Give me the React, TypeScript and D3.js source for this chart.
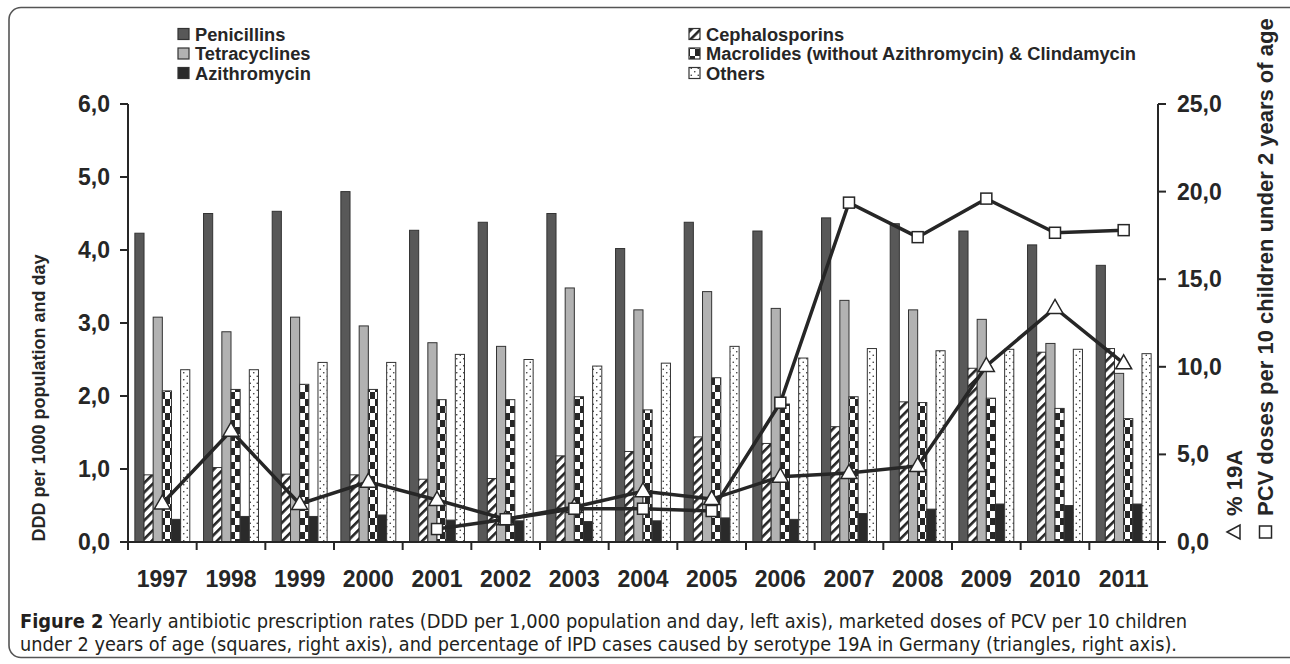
import { useRef, useEffect } from 'react';
import { select, scaleBand, scaleLinear, line, range } from 'd3';

const years = ['1997', '1998', '1999', '2000', '2001', '2002', '2003', '2004', '2005', '2006', '2007', '2008', '2009', '2010', '2011'];

const penicillins = [4.23, 4.5, 4.53, 4.8, 4.27, 4.38, 4.5, 4.02, 4.38, 4.26, 4.44, 4.36, 4.26, 4.07, 3.79];
const cephalosporins = [0.92, 1.02, 0.93, 0.92, 0.86, 0.87, 1.18, 1.24, 1.44, 1.35, 1.58, 1.92, 2.38, 2.6, 2.65];
const tetracyclines = [3.08, 2.88, 3.08, 2.96, 2.73, 2.68, 3.48, 3.18, 3.43, 3.2, 3.31, 3.18, 3.05, 2.72, 2.31];
const macrolides = [2.07, 2.09, 2.16, 2.09, 1.95, 1.95, 1.99, 1.81, 2.25, 1.89, 1.99, 1.91, 1.97, 1.83, 1.69];
const azithromycin = [0.31, 0.35, 0.35, 0.37, 0.3, 0.29, 0.28, 0.29, 0.33, 0.31, 0.39, 0.45, 0.52, 0.5, 0.52];
const others = [2.36, 2.36, 2.46, 2.46, 2.57, 2.5, 2.41, 2.45, 2.68, 2.52, 2.65, 2.62, 2.64, 2.64, 2.58];

// right axis series
const pct19A = [2.2, 6.35, 2.17, 3.44, 2.4, 1.3, 2.0, 2.9, 2.45, 3.73, 3.94, 4.34, 10.05, 13.36, 10.2];
const pcvDoses = [null, null, null, null, 0.74, 1.3, 1.9, 1.9, 1.77, 7.95, 19.37, 17.4, 19.6, 17.65, 17.8];

const leftTicks = [0, 1, 2, 3, 4, 5, 6];
const rightTicks = [0, 5, 10, 15, 20, 25];

const seriesNames = [
  'Penicillins',
  'Cephalosporins',
  'Tetracyclines',
  'Macrolides (without Azithromycin) & Clindamycin',
  'Azithromycin',
  'Others',
];
const seriesValues = [penicillins, cephalosporins, tetracyclines, macrolides, azithromycin, others];
const seriesFills = ['#585858', 'url(#hatch)', '#b2b2b2', 'url(#checker)', '#2a2a2a', 'url(#dots)'];

const captionBold = 'Figure 2';
const captionLine1 = ' Yearly antibiotic prescription rates (DDD per 1,000 population and day, left axis), marketed doses of PCV per 10 children';
const captionLine2 = 'under 2 years of age (squares, right axis), and percentage of IPD cases caused by serotype 19A in Germany (triangles, right axis).';

const W = 1290;
const H = 664;
const FONT = "'Liberation Sans', Arial, Helvetica, sans-serif";
const INK = '#262626';

const App = () => {
  const svgRef = useRef<SVGSVGElement | null>(null);

  useEffect(() => {
    const svg = select(svgRef.current);
    svg.selectAll('*').remove();

    const x = scaleBand<string>().domain(years).range([128, 1158]).paddingInner(0.2).paddingOuter(0.1);
    const xs = scaleBand<number>().domain(range(seriesNames.length)).range([0, x.bandwidth()]);
    const yLeft = scaleLinear().domain([0, 6]).range([542, 104]);
    const yRight = scaleLinear().domain([0, 25]).range([542, 104]);
    const cx = (i: number) => (x(years[i]) as number) + x.bandwidth() / 2;

    // patterns
    const defs = svg.append('defs');
    const hatch = defs
      .append('pattern')
      .attr('id', 'hatch')
      .attr('patternUnits', 'userSpaceOnUse')
      .attr('width', 6.6)
      .attr('height', 6.6)
      .attr('patternTransform', 'rotate(45)');
    hatch.append('rect').attr('width', 6.6).attr('height', 6.6).attr('fill', '#fff');
    hatch.append('rect').attr('width', 2.6).attr('height', 6.6).attr('fill', INK);

    const checker = defs
      .append('pattern')
      .attr('id', 'checker')
      .attr('patternUnits', 'userSpaceOnUse')
      .attr('width', 10)
      .attr('height', 14);
    checker.append('rect').attr('width', 10).attr('height', 14).attr('fill', '#fff');
    checker.append('rect').attr('width', 5).attr('height', 7).attr('fill', INK);
    checker.append('rect').attr('x', 5).attr('y', 7).attr('width', 5).attr('height', 7).attr('fill', INK);

    const dots = defs
      .append('pattern')
      .attr('id', 'dots')
      .attr('patternUnits', 'userSpaceOnUse')
      .attr('width', 7)
      .attr('height', 7);
    dots.append('rect').attr('width', 7).attr('height', 7).attr('fill', '#fff');
    dots.append('circle').attr('cx', 1.75).attr('cy', 1.75).attr('r', 0.8).attr('fill', '#333');
    dots.append('circle').attr('cx', 5.25).attr('cy', 5.25).attr('r', 0.8).attr('fill', '#333');

    // frame
    svg
      .append('rect')
      .attr('x', 9)
      .attr('y', 7.5)
      .attr('width', 1300)
      .attr('height', 650)
      .attr('rx', 12)
      .attr('fill', 'none')
      .attr('stroke', '#555')
      .attr('stroke-width', 1.6);

    // bars
    seriesValues.forEach((vals, s) => {
      svg
        .append('g')
        .selectAll('rect')
        .data(vals)
        .join('rect')
        .attr('x', (d, i) => (x(years[i]) as number) + (xs(s) as number))
        .attr('y', (d) => yLeft(d))
        .attr('width', xs.bandwidth())
        .attr('height', (d) => yLeft(0) - yLeft(d))
        .attr('fill', seriesFills[s])
        .attr('stroke', '#333')
        .attr('stroke-width', 1);
    });

    // axes
    const ax = svg.append('g').attr('stroke', INK).attr('stroke-width', 2).attr('fill', 'none');
    ax.append('line').attr('x1', 128).attr('x2', 1158).attr('y1', 542).attr('y2', 542);
    ax.append('line').attr('x1', 128).attr('x2', 128).attr('y1', 104).attr('y2', 542);
    ax.append('line').attr('x1', 1158).attr('x2', 1158).attr('y1', 104).attr('y2', 542);
    ax.selectAll('.xt')
      .data(range(years.length + 1))
      .join('line')
      .attr('x1', (i) => 128 + i * x.step())
      .attr('x2', (i) => 128 + i * x.step())
      .attr('y1', 542)
      .attr('y2', 550);
    ax.selectAll('.yl')
      .data(leftTicks)
      .join('line')
      .attr('class', 'yl')
      .attr('x1', 120)
      .attr('x2', 128)
      .attr('y1', (d) => yLeft(d))
      .attr('y2', (d) => yLeft(d));
    ax.selectAll('.yr')
      .data(rightTicks)
      .join('line')
      .attr('class', 'yr')
      .attr('x1', 1158)
      .attr('x2', 1166)
      .attr('y1', (d) => yRight(d))
      .attr('y2', (d) => yRight(d));

    const lbl = svg.append('g').attr('font-family', FONT).attr('font-weight', 'bold').attr('fill', INK).attr('font-size', 23);
    lbl.selectAll('.lt')
      .data(leftTicks)
      .join('text')
      .attr('x', 110)
      .attr('y', (d) => yLeft(d))
      .attr('dy', '0.35em')
      .attr('text-anchor', 'end')
      .text((d) => d.toFixed(1).replace('.', ','));
    lbl.selectAll('.rt')
      .data(rightTicks)
      .join('text')
      .attr('x', 1177)
      .attr('y', (d) => yRight(d))
      .attr('dy', '0.35em')
      .text((d) => d.toFixed(1).replace('.', ','));
    lbl.selectAll('.yr')
      .data(years)
      .join('text')
      .attr('x', (d, i) => cx(i))
      .attr('y', 587)
      .attr('text-anchor', 'middle')
      .text((d) => d);

    // axis titles
    const titles = svg.append('g').attr('font-family', FONT).attr('font-weight', 'bold').attr('fill', INK);
    titles
      .append('text')
      .attr('font-size', 18)
      .attr('transform', 'translate(45,398) rotate(-90)')
      .attr('text-anchor', 'middle')
      .text('DDD per 1000 population and day');
    titles
      .append('text')
      .attr('font-size', 22)
      .attr('transform', 'translate(1242,516) rotate(-90)')
      .text('% 19A');
    titles
      .append('text')
      .attr('font-size', 22)
      .attr('transform', 'translate(1273,516) rotate(-90)')
      .text('PCV doses per 10 children under 2 years of age');
    // symbols in front of the right-axis titles
    titles
      .append('path')
      .attr('d', 'M1227,532L1240,525L1240,539Z')
      .attr('fill', '#fff')
      .attr('stroke', INK)
      .attr('stroke-width', 1.5);
    titles
      .append('rect')
      .attr('x', 1259.5)
      .attr('y', 526)
      .attr('width', 12)
      .attr('height', 12)
      .attr('fill', '#fff')
      .attr('stroke', INK)
      .attr('stroke-width', 1.5);

    // lines
    const pctLine = line<number>()
      .x((d, i) => cx(i))
      .y((d) => yRight(d));
    const pcvLine = line<number | null>()
      .defined((d) => d !== null)
      .x((d, i) => cx(i))
      .y((d) => yRight(d as number));
    svg.append('path').attr('d', pctLine(pct19A)).attr('fill', 'none').attr('stroke', INK).attr('stroke-width', 3.5);
    svg.append('path').attr('d', pcvLine(pcvDoses)).attr('fill', 'none').attr('stroke', INK).attr('stroke-width', 3.5);

    svg
      .append('g')
      .selectAll('path')
      .data(pct19A)
      .join('path')
      .attr('d', (d, i) => {
        const px = cx(i);
        const py = yRight(d);
        return `M${px},${py - 8.5}L${px + 8},${py + 5.5}L${px - 8},${py + 5.5}Z`;
      })
      .attr('fill', '#fff')
      .attr('stroke', INK)
      .attr('stroke-width', 1.5);
    svg
      .append('g')
      .selectAll('rect')
      .data(pcvDoses.map((d, i) => ({ d, i })).filter((p) => p.d !== null))
      .join('rect')
      .attr('x', (p) => cx(p.i) - 5.5)
      .attr('y', (p) => yRight(p.d as number) - 5.5)
      .attr('width', 11)
      .attr('height', 11)
      .attr('fill', '#fff')
      .attr('stroke', INK)
      .attr('stroke-width', 1.5);

    // legend
    const legendCols = [
      { x: 178, items: [0, 2, 4] },
      { x: 689, items: [1, 3, 5] },
    ];
    const legend = svg.append('g').attr('font-family', FONT).attr('font-weight', 'bold').attr('fill', INK).attr('font-size', 18.3);
    legendCols.forEach((col) => {
      col.items.forEach((s, r) => {
        const yy = 34 + r * 19.5;
        legend
          .append('rect')
          .attr('x', col.x)
          .attr('y', yy - 5.5)
          .attr('width', 11)
          .attr('height', 11)
          .attr('fill', seriesFills[s])
          .attr('stroke', '#333')
          .attr('stroke-width', 1.2);
        legend
          .append('text')
          .attr('x', col.x + 17)
          .attr('y', yy)
          .attr('dy', '0.36em')
          .text(seriesNames[s]);
      });
    });

    // caption
    const cap = svg
      .append('g')
      .attr('font-family', "'Liberation Sans Narrow', 'DejaVu Sans Condensed', 'Open Sans', sans-serif")
      .attr('font-size', 20)
      .attr('fill', '#231f20');
    const c1 = cap
      .append('text')
      .attr('x', 20)
      .attr('y', 628)
      .attr('textLength', 1167)
      .attr('lengthAdjust', 'spacingAndGlyphs');
    c1.append('tspan').attr('font-weight', 'bold').text(captionBold);
    c1.append('tspan').text(captionLine1);
    cap
      .append('text')
      .attr('x', 20)
      .attr('y', 651)
      .attr('textLength', 1157)
      .attr('lengthAdjust', 'spacingAndGlyphs')
      .text(captionLine2);
  }, []);

  return (
    <div>
      <style>{'body{margin:0;background:#fff}'}</style>
      <svg ref={svgRef} width={W} height={H} style={{ display: 'block' }}></svg>
    </div>
  );
};

export default App;
